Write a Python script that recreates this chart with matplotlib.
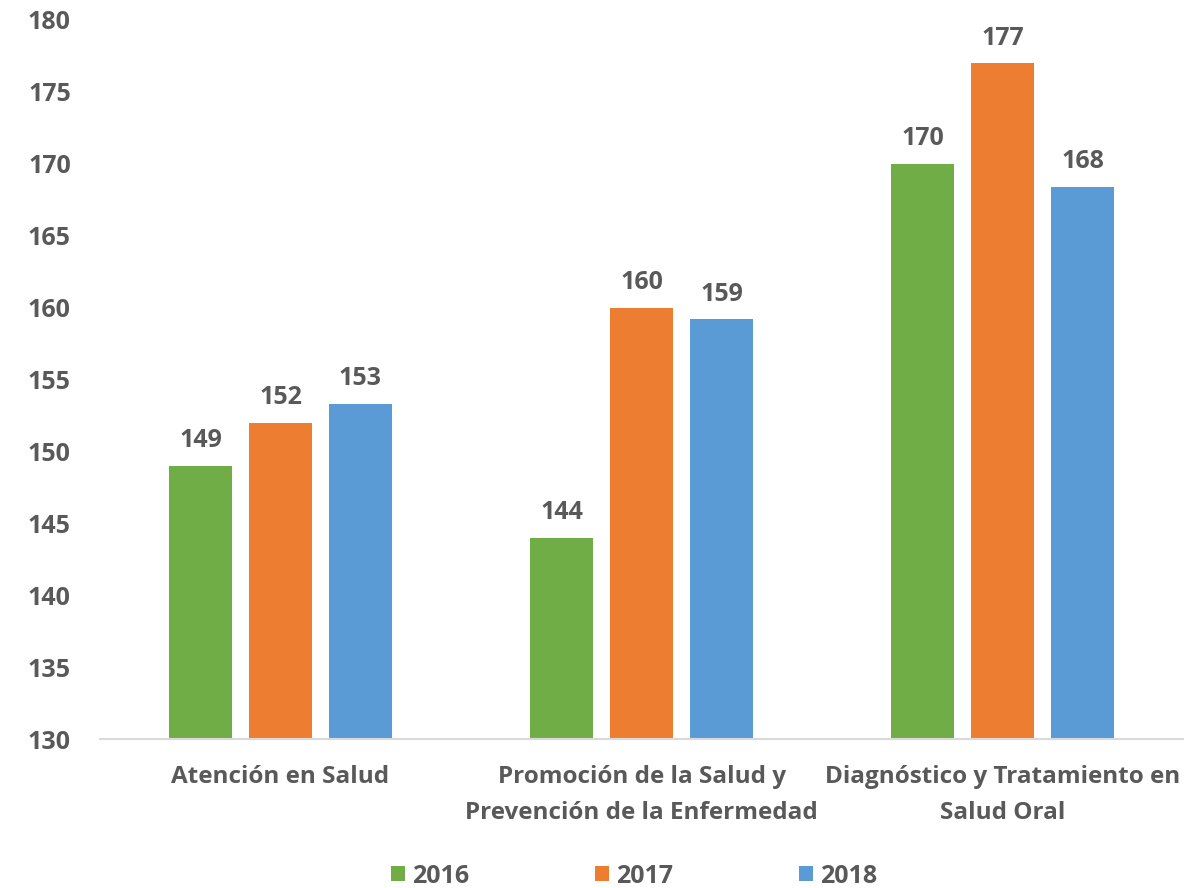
import matplotlib
matplotlib.use("Agg")
import matplotlib.pyplot as plt
import numpy as np

categories = ["Atención en Salud",
              "Promoción de la Salud y\nPrevención de la Enfermedad",
              "Diagnóstico y Tratamiento en\nSalud Oral"]
years = ["2016", "2017", "2018"]
values_2016 = [149, 144, 170]
values_2017 = [152, 160, 177]
values_2018 = [153.3, 159.2, 168.4]
colors = ["#70AD47", "#ED7D31", "#5B9BD5"]
yticks = [130, 135, 140, 145, 150, 155, 160, 165, 170, 175, 180]

TXT = "#595959"
plt.rcParams['font.family'] = ['Open Sans', 'DejaVu Sans']
plt.rcParams['font.weight'] = 'bold'

fig = plt.figure(figsize=(12.01, 8.88), dpi=100)
ax = fig.add_axes([100/1201, 1 - 739/888, 1083/1201, (739-20)/888])

x = np.arange(len(categories))
width = 0.1745
pitch = 0.2216
series = [values_2016, values_2017, values_2018]
for i, (vals, c, yr) in enumerate(zip(series, colors, years)):
    pos = x + (i - 1) * pitch
    bars = ax.bar(pos, vals, width=width, color=c, label=yr, zorder=2)
    for b, v in zip(bars, vals):
        ax.annotate(f"{round(v)}", (b.get_x() + b.get_width()/2, v),
                    xytext=(0, 9), textcoords="offset points",
                    ha="center", va="bottom", fontsize=18, fontweight="bold",
                    color=TXT)

ax.set_ylim(130, 180)
ax.set_xlim(-0.5, 2.5)
ax.set_yticks(yticks)
ax.set_xticks(x)
ax.set_xticklabels(categories, fontsize=17.5, fontweight="bold", color=TXT,
                   linespacing=1.65)
ax.tick_params(axis='y', labelsize=18, colors=TXT, length=0, pad=21)
ax.tick_params(axis='x', length=0, pad=19)
for lab in ax.get_yticklabels():
    lab.set_fontweight("bold")
for s in ["top", "right", "left"]:
    ax.spines[s].set_visible(False)
ax.spines["bottom"].set_color("#D9D9D9")
ax.spines["bottom"].set_linewidth(1.5)

leg = fig.legend(loc="center", bbox_to_anchor=(634/1201, 1 - 876/888), ncol=3,
                 frameon=False, fontsize=18, handlelength=0.56, handleheight=0.56,
                 handletextpad=0.28, columnspacing=5.05, borderpad=0)
for t in leg.get_texts():
    t.set_color(TXT)
    t.set_fontweight("bold")

fig.savefig("out.png", dpi=100)
